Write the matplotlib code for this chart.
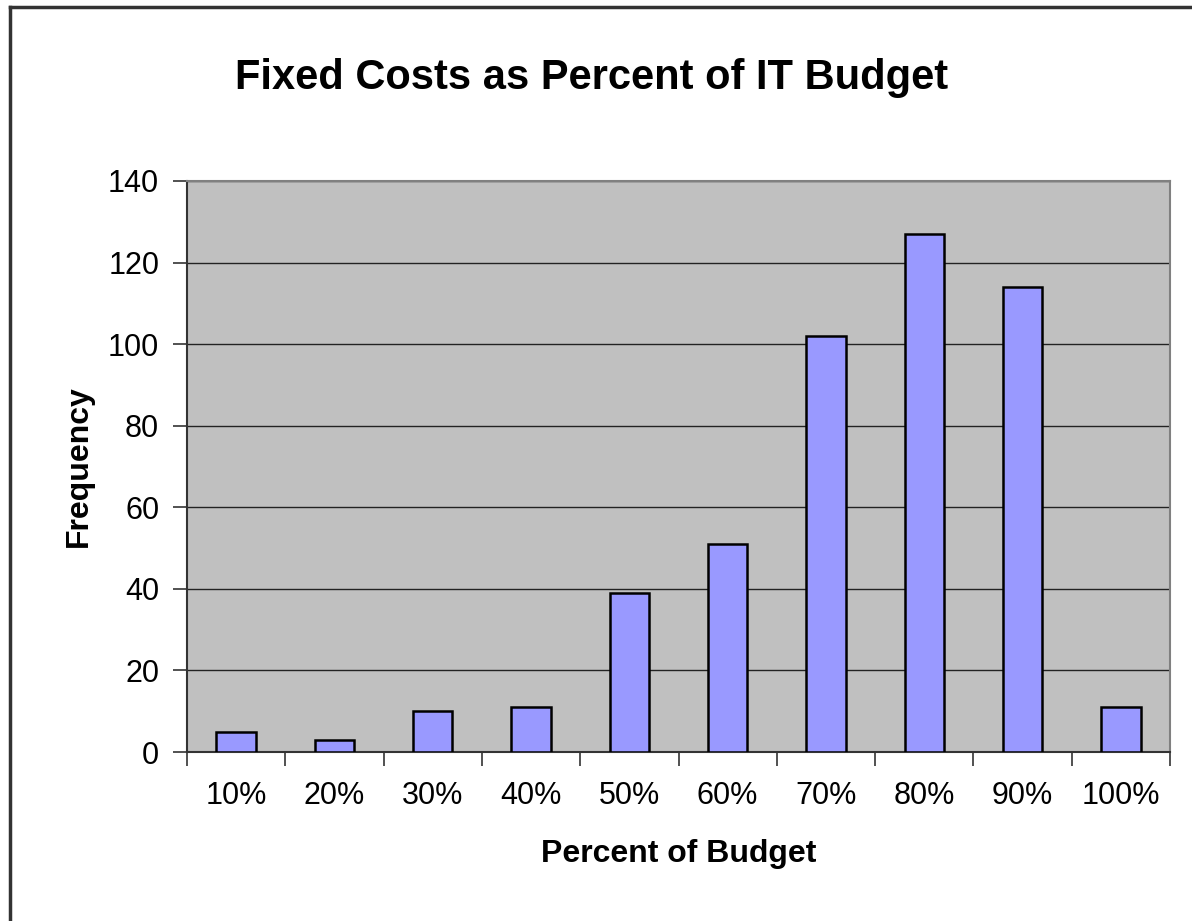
import matplotlib
matplotlib.use("Agg")
import matplotlib.pyplot as plt
from matplotlib.lines import Line2D
import numpy as np

plt.rcParams['font.family'] = ['Liberation Sans', 'DejaVu Sans']

categories = ['10%', '20%', '30%', '40%', '50%', '60%', '70%', '80%', '90%', '100%']
frequency = [5, 3, 10, 11, 39, 51, 102, 127, 114, 11]

fig = plt.figure(figsize=(11.92, 9.21), dpi=100)
ax = fig.add_axes([187 / 1192, 1 - 752 / 921, (1170 - 187) / 1192, (752 - 181) / 921])
ax.set_facecolor('#c0c0c0')

x = np.arange(len(categories))
ax.bar(x, frequency, width=0.4, color='#9999ff', edgecolor='black', linewidth=1.8, zorder=3)

ax.set_xlim(-0.5, len(categories) - 0.5)
ax.set_ylim(0, 140)
ax.set_yticks(range(0, 141, 20))
ax.yaxis.grid(True, color='#222222', linewidth=1.0, zorder=1)
ax.set_axisbelow(True)

# category labels in the middle, tick marks at the boundaries
ax.set_xticks(x)
ax.set_xticklabels(categories)
ax.set_xticks(np.arange(-0.5, len(categories)), minor=True)
ax.tick_params(axis='x', which='major', length=0, pad=21, labelsize=22)
ax.tick_params(axis='x', which='minor', length=10, width=1.2, color='#333333', direction='out')
ax.tick_params(axis='y', length=10, width=1.2, color='#333333', pad=10, labelsize=22)

for side in ['top', 'right']:
    ax.spines[side].set_color('#808080')
    ax.spines[side].set_linewidth(1.5)
for side in ['left', 'bottom']:
    ax.spines[side].set_color('#333333')
    ax.spines[side].set_linewidth(1.5)

ax.set_xlabel('Percent of Budget', fontsize=23, fontweight='bold')
ax.set_ylabel('Frequency', fontsize=23, fontweight='bold')
ax.xaxis.set_label_coords(0.5, -0.152)
ax.yaxis.set_label_coords(-0.0946, 0.5)
fig.text(592 / 1192, 1 - 78 / 921, 'Fixed Costs as Percent of IT Budget',
         fontsize=30, fontweight='bold', ha='center', va='center')

# chart area border (left and top edges only are visible)
fig.add_artist(Line2D([10 / 1192, 10 / 1192], [0, 1 - 7 / 921], color='#333333', linewidth=2.5))
fig.add_artist(Line2D([10 / 1192, 1], [1 - 7 / 921, 1 - 7 / 921], color='#333333', linewidth=2.5))

fig.savefig('out.png', dpi=100, facecolor='white')
